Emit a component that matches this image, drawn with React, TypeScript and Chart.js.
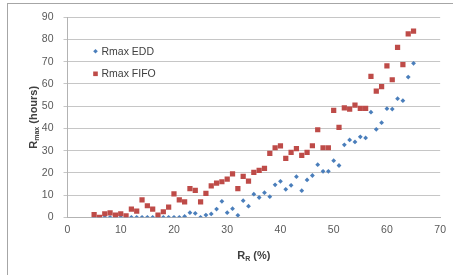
import React, { useEffect, useRef } from "react";
import { Chart, registerables } from "chart.js";

Chart.register(...registerables);

const xValues = [5, 6, 7, 8, 9, 10, 11, 12, 13, 14, 15, 16, 17, 18, 19, 20, 21, 22, 23, 24, 25, 26, 27, 28, 29, 30, 31, 32, 33, 34, 35, 36, 37, 38, 39, 40, 41, 42, 43, 44, 45, 46, 47, 48, 49, 50, 51, 52, 53, 54, 55, 56, 57, 58, 59, 60, 61, 62, 63, 64, 65];

const eddValues = [0, 0, 0, 0, 0, 0, 0, 0, 0, 0, 0, 0, 0, 0, 0, 0, 0, 0.4, 2.1, 1.8, 0, 1.0, 1.5, 3.7, 7.2, 2.1, 3.9, 0.9, 7.5, 5.0, 10.4, 8.9, 11.1, 9.3, 14.6, 16.2, 12.6, 14.4, 18.3, 12.0, 16.8, 18.8, 23.7, 20.7, 20.7, 25.5, 23.3, 32.6, 34.8, 33.9, 36.2, 35.7, 47.3, 39.6, 42.6, 48.9, 48.7, 53.4, 52.5, 63.1, 69.3];

const fifoValues = [1.2, 0, 1.6, 2.0, 1.0, 1.6, 0.7, 3.7, 2.8, 7.8, 5.2, 3.7, 1.0, 2.5, 4.6, 10.5, 7.8, 6.9, 12.9, 12.1, 6.9, 10.8, 14.1, 15.4, 16.0, 17.2, 19.5, 12.9, 18.4, 16.3, 20.2, 21.1, 22.0, 28.8, 31.3, 32.1, 26.5, 29.2, 30.9, 27.9, 29.2, 32.2, 39.4, 31.3, 31.3, 48.1, 40.5, 49.2, 48.7, 50.5, 49.0, 49.0, 63.4, 56.8, 58.8, 68.1, 61.9, 76.5, 68.7, 82.5, 83.8];

const seriesNames = ["Rmax EDD", "Rmax FIFO"];
const xTitle = ["R", "R", " (%)"];
const yTitle = ["R", "max", " (hours)"];

const BLUE = "#4a7ebb";
const RED = "#be4b48";
const FONT = "'Liberation Sans', Arial, sans-serif";

const overlay = {
  id: "overlay",
  afterDraw(chart: any) {
    const ctx = chart.ctx as CanvasRenderingContext2D;
    const area = chart.chartArea;
    ctx.save();
    // legend
    const lx = area.left + 28;
    const rows = [area.top + 34, area.top + 56.5];
    ctx.font = `10.5px ${FONT}`;
    ctx.textBaseline = "middle";
    ctx.textAlign = "left";
    // diamond
    ctx.fillStyle = BLUE;
    ctx.beginPath();
    const d = 2.3;
    ctx.moveTo(lx - d, rows[0]);
    ctx.lineTo(lx, rows[0] - d);
    ctx.lineTo(lx + d, rows[0]);
    ctx.lineTo(lx, rows[0] + d);
    ctx.closePath();
    ctx.fill();
    ctx.fillStyle = RED;
    ctx.fillRect(lx - 2.3, rows[1] - 2.3, 4.6, 4.6);
    ctx.fillStyle = "#404040";
    ctx.fillText(seriesNames[0], lx + 6, rows[0] + 0.5);
    ctx.fillText(seriesNames[1], lx + 6, rows[1] + 0.5);

    // x title with subscript
    const drawSub = (parts: string[], cx: number, cy: number) => {
      const big = `bold 11px ${FONT}`;
      const small = `bold 7px ${FONT}`;
      ctx.font = big;
      const w0 = ctx.measureText(parts[0]).width;
      const w2 = ctx.measureText(parts[2]).width;
      ctx.font = small;
      const w1 = ctx.measureText(parts[1]).width;
      const total = w0 + w1 + w2;
      let x = cx - total / 2;
      ctx.textAlign = "left";
      ctx.textBaseline = "alphabetic";
      ctx.font = big;
      ctx.fillText(parts[0], x, cy + 4);
      x += w0;
      ctx.font = small;
      ctx.fillText(parts[1], x, cy + 6);
      x += w1;
      ctx.font = big;
      ctx.fillText(parts[2], x, cy + 4);
    };
    ctx.fillStyle = "#404040";
    drawSub(xTitle, (area.left + area.right) / 2, 254.5);
    ctx.save();
    ctx.translate(33, (area.top + area.bottom) / 2);
    ctx.rotate(-Math.PI / 2);
    drawSub(yTitle, 0, 0);
    ctx.restore();
    ctx.restore();
  },
};

export default function App() {
  const ref = useRef<HTMLCanvasElement>(null);
  useEffect(() => {
    if (!ref.current) return;
    const chart = new Chart(ref.current, {
      type: "scatter",
      data: {
        datasets: [
          {
            label: seriesNames[0],
            data: xValues.map((x, i) => ({ x, y: eddValues[i] })),
            pointStyle: "rectRot",
            pointRadius: 2.4,
            backgroundColor: BLUE,
            borderWidth: 0,
            order: 2,
          },
          {
            label: seriesNames[1],
            data: xValues.map((x, i) => ({ x, y: fifoValues[i] })),
            pointStyle: "rect",
            pointRadius: 3.7,
            backgroundColor: RED,
            borderWidth: 0,
            order: 1,
          },
        ],
      },
      options: {
        animation: false,
        responsive: false,
        maintainAspectRatio: false,
        layout: { padding: { left: 0.5, right: 12, top: 17.3, bottom: 37.7 } },
        plugins: { legend: { display: false }, tooltip: { enabled: false } },
        scales: {
          x: {
            type: "linear",
            min: 0,
            max: 70,
            afterFit: (s: any) => { s.height = 20; },
            ticks: { stepSize: 10, color: "#595959", font: { family: FONT, size: 10.5 }, padding: 7 },
            grid: { display: false, drawTicks: false },
            border: { display: true, color: "#b3b3b3", width: 1 },
          },
          y: {
            type: "linear",
            min: 0,
            max: 90,
            afterFit: (s: any) => { s.width = 67; },
            ticks: { stepSize: 10, color: "#595959", font: { family: FONT, size: 10.5 }, padding: 10 },
            grid: { color: "#c6c6c6", lineWidth: 1, drawTicks: true, tickLength: 4 },
            border: { display: true, color: "#b3b3b3", width: 1 },
          },
        },
      },
      plugins: [overlay],
    });
    return () => chart.destroy();
  }, []);
  return (
    <div style={{ position: "fixed", left: 0, top: 0, width: 453, height: 275, overflow: "hidden", background: "#fff" }}>
      <div style={{ position: "absolute", left: 7, top: 3, width: 470, height: 300, border: "1px solid #a6a6a6", boxSizing: "border-box" }} />
      <canvas ref={ref} width={453} height={275} style={{ position: "absolute", left: 0, top: 0, width: 453, height: 275 }} />
    </div>
  );
}
